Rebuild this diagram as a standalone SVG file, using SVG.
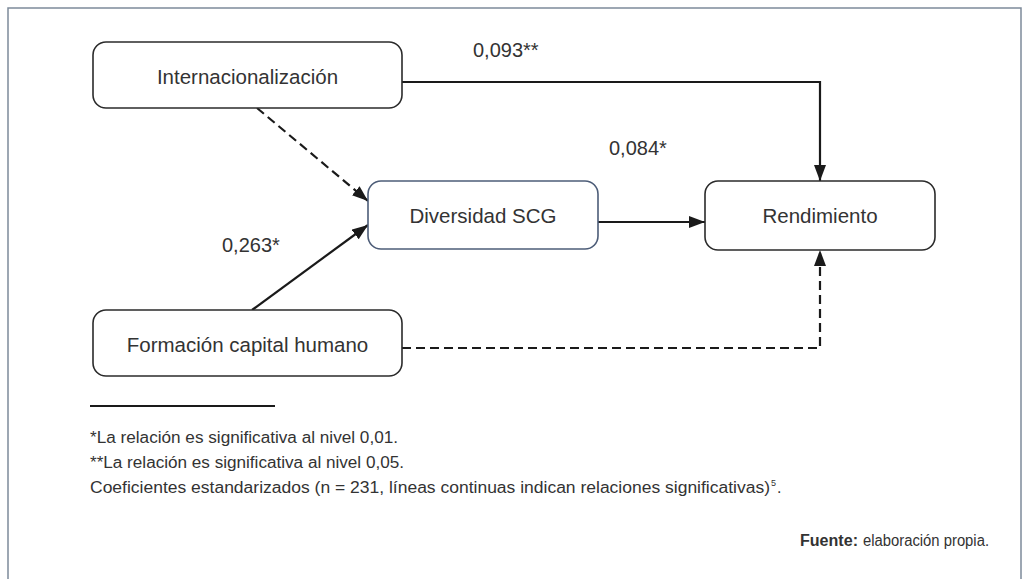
<svg xmlns="http://www.w3.org/2000/svg" width="1030" height="579" viewBox="0 0 1030 579">
<style>
.node{fill:#fff;stroke:#2b2b2b;stroke-width:1.6}
.node2{fill:#fff;stroke:#4d5d78;stroke-width:1.6}
.lbl{font-family:"Liberation Sans",Arial,sans-serif;font-size:20.5px;fill:#333;text-anchor:middle}
.num{font-family:"Liberation Sans",Arial,sans-serif;font-size:20px;fill:#333}
.note{font-family:"Liberation Sans",Arial,sans-serif;font-size:16px;fill:#333}
.sup{font-family:"Liberation Sans",Arial,sans-serif;font-size:9px;fill:#333}
.conn{fill:none;stroke:#1a1a1a;stroke-width:2.2}
.dash{stroke-dasharray:9 5}
</style>
<defs>
<marker id="ah" markerUnits="userSpaceOnUse" markerWidth="16" markerHeight="12" viewBox="0 0 16 12" refX="16" refY="6" orient="auto">
<path d="M0,0 L16,6 L0,12 Z" fill="#1a1a1a"/>
</marker>
</defs>
<rect width="1030" height="579" fill="#fff"/>
<path d="M8,579 V8 H1021 V579" fill="none" stroke="#7d8a9a" stroke-width="1.5"/>
<g id="connectors">
<path class="conn" d="M402,82 H820 V181" marker-end="url(#ah)"/>
<path class="conn dash" d="M402,348 H820 V250" marker-end="url(#ah)"/>
<path class="conn" d="M598,222 H705" marker-end="url(#ah)"/>
<path class="conn" d="M252,310 L368,225" marker-end="url(#ah)"/>
<path class="conn dash" d="M257,108 L368,201" marker-end="url(#ah)"/>
</g>
<g id="internacionalizacion">
<rect class="node" x="93" y="42" width="309" height="66" rx="13"/>
<text class="lbl" x="247.5" y="84">Internacionalización</text>
</g>
<g id="diversidad">
<rect class="node2" x="368" y="181" width="230" height="68" rx="13"/>
<text class="lbl" x="483" y="223">Diversidad SCG</text>
</g>
<g id="rendimiento">
<rect class="node" x="705" y="181" width="230" height="69" rx="13"/>
<text class="lbl" x="820" y="223">Rendimiento</text>
</g>
<g id="formacion">
<rect class="node" x="93" y="310" width="309" height="66" rx="13"/>
<text class="lbl" x="247.5" y="352">Formación capital humano</text>
</g>
<g id="labels">
<text class="num" x="473" y="57">0,093**</text>
<text class="num" x="609" y="155">0,084*</text>
<text class="num" x="222" y="252">0,263*</text>
</g>
<g id="notes">
<line x1="90" y1="406" x2="275" y2="406" stroke="#1a1a1a" stroke-width="2"/>
<text class="note" x="90" y="443" textLength="308" lengthAdjust="spacingAndGlyphs">*La relación es significativa al nivel 0,01.</text>
<text class="note" x="90" y="468" textLength="314" lengthAdjust="spacingAndGlyphs">**La relación es significativa al nivel 0,05.</text>
<text class="note" x="90" y="493" textLength="680" lengthAdjust="spacingAndGlyphs">Coeficientes estandarizados (n = 231, líneas continuas indican relaciones significativas)</text>
<text class="sup" x="771" y="486">5</text>
<text class="note" x="777" y="493">.</text>
<text class="note" x="800" y="546" font-weight="bold" fill="#1a1a1a" textLength="58" lengthAdjust="spacingAndGlyphs">Fuente:</text>
<text class="note" x="863" y="546" textLength="126" lengthAdjust="spacingAndGlyphs">elaboración propia.</text>
</g>
</svg>
